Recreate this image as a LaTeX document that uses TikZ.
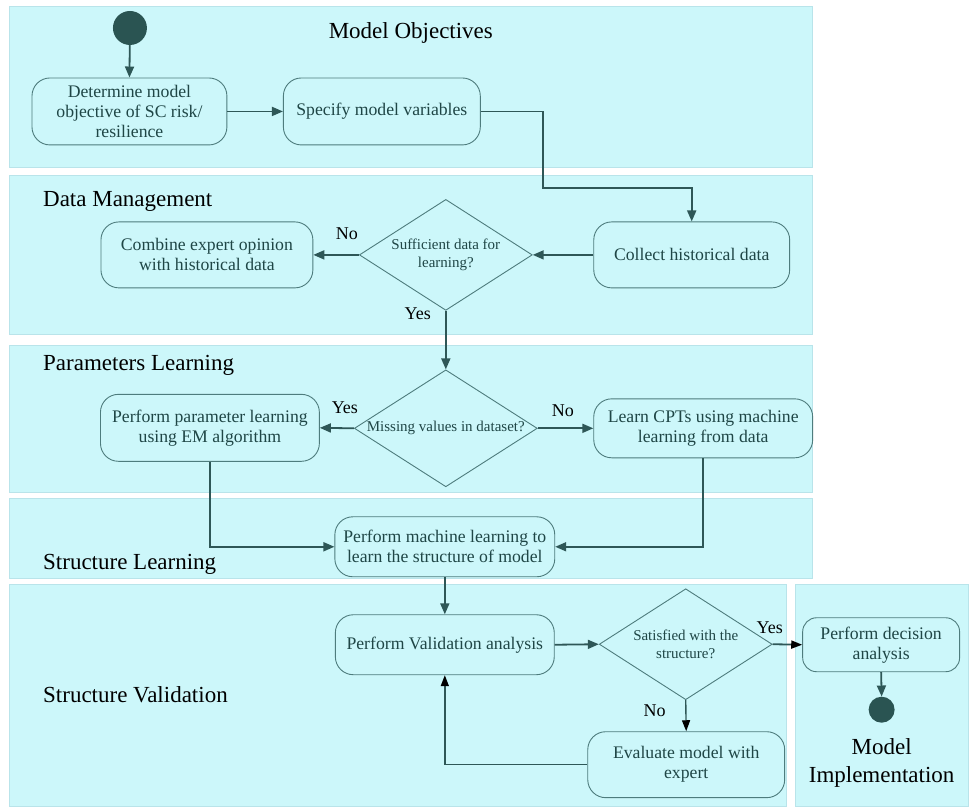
\documentclass[tikz,border=0pt]{standalone}
\usepackage{fontspec}
\newfontfamily\tnr{Liberation Serif}
\usetikzlibrary{arrows.meta,shapes.geometric}
\definecolor{panel}{HTML}{CCF7FA}
\definecolor{panelbd}{HTML}{B9E4EA}
\definecolor{nodebd}{HTML}{4E7C7D}
\definecolor{ntext}{HTML}{1F4646}
\definecolor{arr}{HTML}{2E5757}
\definecolor{dot}{HTML}{2A5452}
\tikzset{
  panelbox/.style={fill=panel, draw=panelbd, line width=0.8pt},
  title/.style={font=\tnr\fontsize{23}{27}\selectfont, inner sep=0pt, text=black, align=center},
  act/.style={draw=nodebd, fill=panel, rounded corners=18pt, line width=0.9pt, text=ntext, align=center, font=\tnr\fontsize{17.7}{20}\selectfont, inner sep=0pt},
  decn/.style={diamond, draw=nodebd, fill=panel, line width=0.9pt, inner sep=0pt},
  dtext/.style={text=ntext, align=center, font=\tnr\fontsize{15}{18}\selectfont, inner sep=0pt},
  flow/.style={draw=arr, line width=1.8pt, -{Triangle[length=11pt,width=9pt]}},
  bflow/.style={draw=arr, line width=1.4pt, -{Triangle[length=11pt,width=8pt,color=black]}},
  lbl/.style={font=\tnr\fontsize{18}{20}\selectfont, inner sep=0pt, text=black},
  dotnode/.style={circle, fill=dot, inner sep=0pt}
}
\begin{document}
\begin{tikzpicture}[x=1pt,y=-1pt]
\fill[white] (0,0) rectangle (969,807);
% panels
\draw[panelbox] (9,6) rectangle (813,167);
\draw[panelbox] (9,175) rectangle (813,335);
\draw[panelbox] (9,346) rectangle (813,493);
\draw[panelbox] (9,499) rectangle (813,579);
\draw[panelbox] (9,585) rectangle (787,807);
\draw[panelbox] (796,585) rectangle (969,807);
% titles
\node[title] (t1) at (411,33) {Model Objectives};
\node[title, anchor=west] (t2) at (43,202) {Data Management};
\node[title, anchor=west] (t3) at (43,366) {Parameters Learning};
\node[title, anchor=west] (t4) at (43,565) {Structure Learning};
\node[title, anchor=west] (t5) at (43,695) {Structure Validation};
\node[title, font=\tnr\fontsize{23}{28}\selectfont] (t6) at (882,763) {Model\\Implementation};
% nodes
\node[dotnode, minimum size=34pt] (start) at (130,28) {};
\node[act, minimum width=195pt, minimum height=67pt] (det) at (129.5,111.5) {Determine model\\objective of SC risk/\\resilience};
\node[act, minimum width=197pt, minimum height=67pt] (spec) at (382,111.5) {Specify model variables};
\node[act, minimum width=196pt, minimum height=66pt] (coll) at (692,255) {Collect historical data};
\node[decn, minimum width=173pt, minimum height=111pt] (d1) at (446,255) {};
\node[dtext] (d1t) at (446,255) {Sufficient data for\\learning?};
\node[act, minimum width=212pt, minimum height=66pt] (comb) at (207,255) {Combine expert opinion\\with historical data};
\node[decn, minimum width=183pt, minimum height=117pt] (d2) at (446,428.5) {};
\node[dtext] (d2t) at (446,428.5) {Missing values in dataset?};
\node[act, minimum width=219pt, minimum height=67pt] (param) at (210,428) {Perform parameter learning\\using EM algorithm};
\node[act, minimum width=219pt, minimum height=59pt] (cpt) at (703.5,428.5) {Learn CPTs using machine\\learning from data};
\node[act, minimum width=220pt, minimum height=60pt] (ml) at (445,547) {Perform machine learning to\\learn the structure of model};
\node[act, minimum width=219pt, minimum height=60pt] (val) at (445,645) {Perform Validation analysis};
\node[decn, minimum width=173pt, minimum height=111pt] (d3) at (686,644.5) {};
\node[dtext] (d3t) at (686,645) {Satisfied with the\\structure?};
\node[act, minimum width=157pt, minimum height=54pt, rounded corners=14pt] (deca) at (881.5,645) {Perform decision\\analysis};
\node[dotnode, minimum size=26pt] (end) at (882,710) {};
\node[act, minimum width=197pt, minimum height=66pt] (eval) at (686.5,765) {Evaluate model with\\expert};
% labels
\node[lbl] (l1) at (347,234) {No};
\node[lbl] (l2) at (418,314) {Yes};
\node[lbl] (l3) at (345,408) {Yes};
\node[lbl] (l4) at (563,411) {No};
\node[lbl] (l5) at (770,628) {Yes};
\node[lbl] (l6) at (655,711) {No};
% connectors
\coordinate (k1) at (543,188);
\draw[flow] (start) -- (det.north);
\draw[flow] (det.east) -- (spec.west);
\draw[flow] (spec.east) -| (k1) -| (coll.north);
\draw[flow] (coll.west) -- (d1.east);
\draw[flow] (d1.west) -- (comb.east);
\draw[flow] (d1.south) -- (d2.north);
\draw[flow] (d2.west) -- (param.east);
\draw[flow] (d2.east) -- (cpt.west);
\draw[flow] (param.south) |- (ml.west);
\draw[flow] (cpt.south) |- (ml.east);
\draw[flow] (ml.south) -- (val.north);
\draw[flow] (val.east) -- (d3.west);
\draw[bflow, line width=1.8pt] (d3.east) -- (deca.west);
\draw[flow] (deca.south) -- (end.north);
\draw[bflow] (d3.south) -- (eval.north);
\draw[bflow] (eval.west) -| (val.south);
\end{tikzpicture}
\end{document}
